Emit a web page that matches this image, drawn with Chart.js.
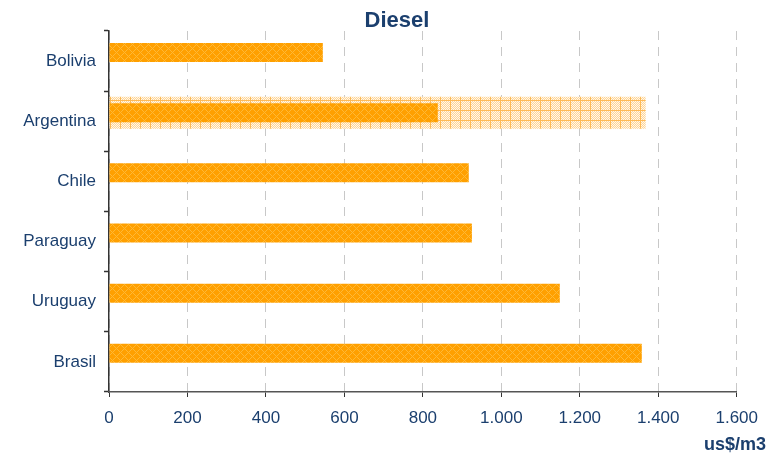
<!DOCTYPE html>
<html>
<head>
<meta charset="utf-8">
<script src="https://cdn.jsdelivr.net/npm/chart.js@4.4.1/dist/chart.umd.min.js"></script>
<style>
  html, body { margin: 0; padding: 0; background: #fff; }
  #wrap { width: 769px; height: 453px; }
</style>
</head>
<body>
<div id="wrap"><canvas id="myChart" width="769" height="453"></canvas></div>
<script>
const paises = ['Bolivia', 'Argentina', 'Chile', 'Paraguay', 'Uruguay', 'Brasil'];
const precioDiesel = [545, 838, 917, 925, 1149, 1358];
const precioArgentinaAlt = [null, 1368, null, null, null, null];
const ejeX = [0, 200, 400, 600, 800, 1000, 1200, 1400, 1600];
const titulo = 'Diesel';
const unidad = 'us$/m3';

const azul = '#1B3F6E';

// patrones de relleno
function patronOscuro() {
    const c = document.createElement('canvas');
    c.width = 8; c.height = 8;
    const g = c.getContext('2d');
    g.fillStyle = '#FFA000';
    g.fillRect(0, 0, 8, 8);
    g.fillStyle = '#FFB834';
    for (let x = 0; x < 8; x++) {
        for (let y = 0; y < 8; y++) {
            if ((x + y) % 8 === 0 || (x - y + 8) % 8 === 0) g.fillRect(x, y, 1, 1);
        }
    }
    return g.createPattern(c, 'repeat');
}

function patronClaro() {
    const c = document.createElement('canvas');
    c.width = 10; c.height = 10;
    const g = c.getContext('2d');
    for (let x = 0; x < 10; x++) {
        for (let y = 0; y < 10; y++) {
            g.fillStyle = ((x + y) % 2 === 0) ? '#FFF7EA' : '#FFD596';
            g.fillRect(x, y, 1, 1);
        }
    }
    g.fillStyle = '#FFBA55';
    g.fillRect(0, 0, 10, 1);
    g.fillRect(0, 0, 1, 10);
    return g.createPattern(c, 'repeat');
}

const fmt = v => String(v).replace(/\B(?=(\d{3})+(?!\d))/g, '.');

// titulo y unidad dibujados a mano (posicion como en el original)
const textos = {
    id: 'textos',
    afterDraw(chart) {
        const g = chart.ctx;
        g.save();
        g.fillStyle = azul;
        g.textBaseline = 'alphabetic';
        g.font = 'bold 22px "Liberation Sans", Arial, sans-serif';
        g.textAlign = 'center';
        g.fillText(titulo, 397, 27);
        g.font = 'bold 18px "Liberation Sans", Arial, sans-serif';
        g.textAlign = 'right';
        g.fillText(unidad, 766, 450);
        g.restore();
    }
};

const ctx = document.getElementById('myChart').getContext('2d');
new Chart(ctx, {
    type: 'bar',
    data: {
        labels: paises,
        datasets: [
            {
                label: 'Diesel',
                data: precioDiesel,
                backgroundColor: patronOscuro(),
                stack: 'a',
                categoryPercentage: 0.57,
                barPercentage: 1.11
            },
            {
                label: 'Argentina (alt.)',
                data: precioArgentinaAlt,
                backgroundColor: patronClaro(),
                stack: 'a',
                categoryPercentage: 0.57,
                barPercentage: 1.87
            },
            {
                label: '',
                data: [null, null, null, null, null, null],
                stack: 'b',
                categoryPercentage: 0.57
            }
        ]
    },
    plugins: [textos],
    options: {
        indexAxis: 'y',
        responsive: false,
        animation: false,
        layout: { padding: { left: 0, right: 32, top: 31, bottom: 0 } },
        plugins: {
            legend: { display: false },
            tooltip: { enabled: false },
            title: { display: false }
        },
        scales: {
            y: {
                stacked: true,
                afterFit: s => { s.width = 109; },
                border: { color: '#333', width: 1.5 },
                grid: { drawOnChartArea: false, tickLength: 5, tickColor: '#333', tickWidth: 1.5, offset: true },
                ticks: {
                    color: azul,
                    padding: 8,
                    font: { family: 'Liberation Sans', size: 17 }
                }
            },
            x: {
                stacked: false,
                min: 0,
                max: 1600,
                afterFit: s => { s.height = 61; },
                afterBuildTicks: s => { s.ticks = ejeX.map(v => ({ value: v })); },
                border: { color: '#555', width: 1.5, dash: [9, 7] },
                grid: {
                    color: '#C8C8C8',
                    tickLength: 5,
                    tickColor: '#333',
                    tickBorderDash: []
                },
                ticks: {
                    color: azul,
                    padding: 11,
                    maxRotation: 0,
                    font: { family: 'Liberation Sans', size: 17 },
                    callback: v => fmt(v)
                }
            }
        }
    }
});
</script>
</body>
</html>
